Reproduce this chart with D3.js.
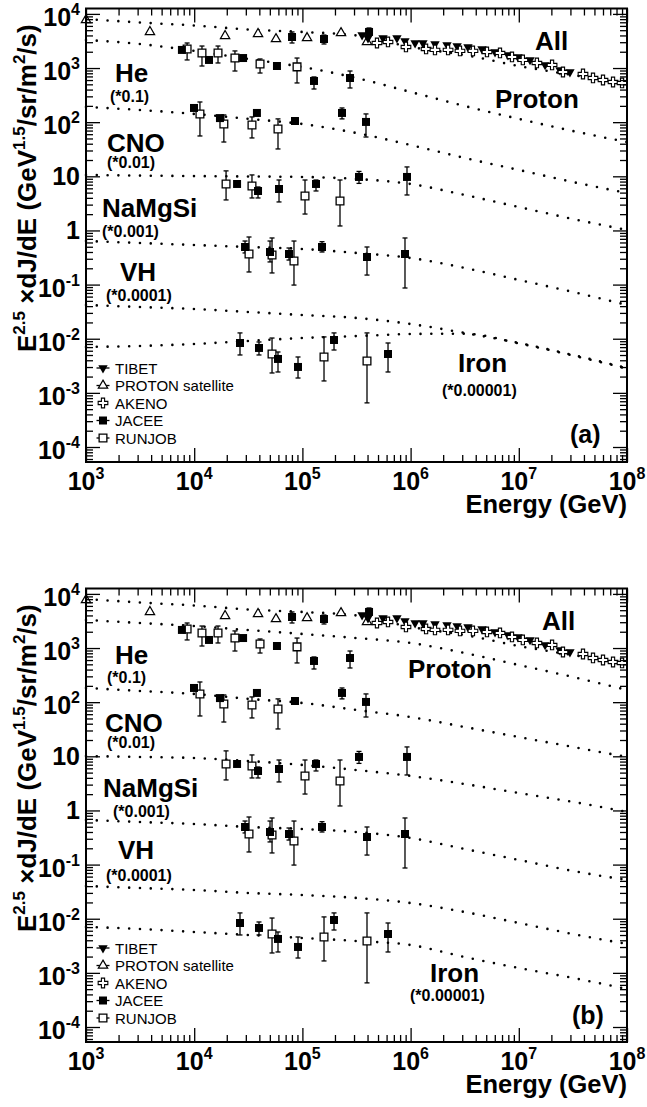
<!DOCTYPE html>
<html>
<head>
<meta charset="utf-8">
<script src="https://cdn.jsdelivr.net/npm/d3@7"></script>
<style>
  body { margin: 0; background: #fff; }
  svg text { font-family: "Liberation Sans", Arial, Helvetica, sans-serif; fill: #000; }
</style>
</head>
<body>
<svg id="chart" width="647" height="1107"></svg>
<script>
// ---------- model curves (E^2.5 dJ/dE, already scaled per group) ----------
const modelEnergy = [1e3, 3.16e3, 1e4, 3.16e4, 1e5, 3.16e5, 1e6, 3.16e6, 1e7, 3.16e7, 1e8];
const allModel     = [8050, 6930, 6110, 5150, 4640, 3990, 2450, 1740, 1090, 743, 507];
const protonModelA = [3300, 2780, 2070, 1470, 1045, 655, 361, 199, 115, 68.7, 43.0];
const protonModelB = [3300, 2900, 2550, 2150, 1820, 1530, 1240, 810, 486, 292, 168];
const heModelA     = [191, 168, 142, 115, 92.5, 63.1, 37.8, 21.8, 13.1, 7.85, 4.92];
const heModelB     = [183, 161, 142, 115, 96.6, 71.8, 53.2, 34.8, 22.7, 14.9, 9.7];
const cnoModelA    = [10.6, 10.3, 10.1, 9.93, 9.73, 8.93, 7.22, 4.52, 2.71, 1.63, 1.02];
const cnoModelB    = [10.1, 9.73, 9.31, 8.20, 6.92, 5.58, 4.33, 3.08, 2.10, 1.44, 0.94];
const namgsiModelA = [0.638, 0.586, 0.538, 0.495, 0.455, 0.384, 0.310, 0.203, 0.122, 0.073, 0.042];
const namgsiModelB = [0.667, 0.612, 0.562, 0.495, 0.455, 0.400, 0.310, 0.194, 0.122, 0.0762, 0.052];
const vhModelA     = [0.0420, 0.0385, 0.0354, 0.0312, 0.0274, 0.0242, 0.0187, 0.0128, 0.00834, 0.00501, 0.00288];
const vhModelB     = [0.0402, 0.0369, 0.0340, 0.0299, 0.0274, 0.0242, 0.0195, 0.0133, 0.00834, 0.00522, 0.00341];
const ironModelA   = [0.00705, 0.00735, 0.00800, 0.00910, 0.0103, 0.0112, 0.0122, 0.0124, 0.00820, 0.00490, 0.00280];
const ironModelB   = [0.00705, 0.00647, 0.00569, 0.00501, 0.00441, 0.00388, 0.00327, 0.00196, 0.00123, 0.000805, 0.000505];

// ---------- measurements ----------
const protonSatE = [1000, 3900, 19300, 38900, 57000, 110400, 227400, 395400];
const protonSatV = [7710, 4640, 3910, 4260, 3440, 3590, 4440, 3030];

const tibetE = [3.56e5, 4.04e5, 5.56e5, 7.48e5, 8.87e5, 1.10e6, 1.30e6, 1.68e6, 2.17e6, 2.69e6, 3.39e6, 4.57e6, 6.03e6, 7.94e6, 9.83e6, 1.27e7, 1.75e7, 2.40e7, 2.97e7];
const tibetV = [4070, 3590, 3590, 3590, 3160, 2900, 2900, 2780, 2670, 2550, 2450, 2250, 1980, 1740, 1600, 1410, 1140, 920, 845];

const akenoE = [4.89e5, 6.18e5, 9.06e5, 1.39e6, 1.68e6, 2.22e6, 2.86e6, 3.77e6, 5.08e6, 6.70e6, 8.65e6, 1.09e7, 1.47e7, 2.03e7, 2.56e7, 3.92e7, 4.85e7, 6.00e7, 7.43e7, 9.00e7];
const akenoV = [2900, 3030, 2450, 2250, 2160, 2160, 2070, 2070, 1980, 1900, 1600, 1410, 1240, 1140, 845, 776, 655, 601, 552, 530];

// [energy, value, lower, upper]
const jaceeAll     = [[80200, 3740, 2900, 4640], [158400, 3440, 2780, 4070], [412900, 4640, 3910, 5490]];
const jaceeProton  = [[7700, 2160, 1950, 2400], [13700, 1410, 1300, 1520], [28300, 1530, 1420, 1650], [58200, 1090, 1010, 1180], [128000, 577, 410, 684], [275500, 655, 428, 881]];
const runjobProton = [[8600, 2250, 1410, 2900], [11800, 1900, 1090, 2550], [16600, 1900, 1240, 2550], [23800, 1530, 881, 2070], [40600, 1190, 809, 1470], [89200, 1050, 530, 1530]];
const jaceeHe      = [[9960, 183, 170, 196], [17300, 119, 110, 128], [38000, 148, 137, 160], [85400, 105, 97, 113], [232300, 148, 115, 183], [387000, 101, 53.2, 142]];
const runjobHe     = [[11300, 142, 55.6, 236], [18800, 92.5, 43.0, 136], [34200, 88.7, 51.1, 125], [59500, 74.8, 32.0, 115]];
const jaceeCNO     = [[24900, 7.22, 6.5, 8.0], [38900, 5.36, 3.98, 6.35], [60800, 5.83, 3.36, 8.55], [133600, 7.22, 5.36, 8.55], [333500, 9.73, 7.4, 12.3], [926200, 9.73, 4.52, 14.9]];
const runjobCNO    = [[19700, 7.22, 3.66, 12.6], [34200, 6.63, 3.98, 10.6], [105700, 4.33, 2.01, 8.55], [222600, 3.50, 1.21, 8.55]];
const jaceeNaMgSi  = [[29500, 0.495, 0.384, 0.638], [50200, 0.400, 0.262, 0.638], [75200, 0.367, 0.284, 0.474], [151800, 0.495, 0.400, 0.620], [395400, 0.323, 0.150, 0.495], [887500, 0.367, 0.0865, 0.726]];
const runjobNaMgSi = [[32100, 0.367, 0.171, 0.757], [52400, 0.352, 0.164, 0.726], [83600, 0.273, 0.098, 0.638]];
const jaceeIron    = [[26500, 0.00834, 0.00501, 0.0128], [39700, 0.00675, 0.00501, 0.00871], [59500, 0.00423, 0.00243, 0.00569], [91100, 0.00301, 0.00188, 0.00460], [196000, 0.00948, 0.00619, 0.0128], [618500, 0.00522, 0.00243, 0.00834]];
const runjobIron   = [[52400, 0.00522, 0.00233, 0.0103], [158400, 0.00460, 0.00166, 0.0108], [395400, 0.00388, 0.000653, 0.0128]];

// ---------- axis ticks and text ----------
const xTickValues = [1e3, 1e4, 1e5, 1e6, 1e7, 1e8];
const xTickLabels = ["10^3", "10^4", "10^5", "10^6", "10^7", "10^8"];
const yTickValues = [1e4, 1e3, 1e2, 1e1, 1, 1e-1, 1e-2, 1e-3, 1e-4];
const yTickLabels = ["10^4", "10^3", "10^2", "10", "1", "10^-1", "10^-2", "10^-3", "10^-4"];
const legendNames = ["TIBET", "PROTON satellite", "AKENO", "JACEE", "RUNJOB"];
const groupNames = ["All", "Proton", "He", "CNO", "NaMgSi", "VH", "Iron"];
const groupFactors = ["(*0.1)", "(*0.01)", "(*0.001)", "(*0.0001)", "(*0.00001)"];

// ---------- layout ----------
const svg = d3.select("#chart");
const X0 = 86, X1 = 627;
const FONT_BIG = 25, FONT_SUP = 16;

const panels = [
  {
    top: 8.5, bottom: 462, tag: "(a)", tagPos: [570, 443],
    models: [allModel, protonModelA, heModelA, cnoModelA, namgsiModelA, vhModelA, ironModelA],
    names: [[535, 50], [495, 108], [115, 82], [107, 152], [102, 217], [120, 281], [458, 372]],
    factors: [[110, 102], [107, 168], [102, 237], [106, 301], [442, 396]]
  },
  {
    top: 588.5, bottom: 1042, tag: "(b)", tagPos: [572, 1024],
    models: [allModel, protonModelB, heModelB, cnoModelB, namgsiModelB, vhModelB, ironModelB],
    names: [[542, 630], [408, 678], [115, 664], [105, 732], [103, 797], [118, 859], [430, 982]],
    factors: [[107, 683], [107, 748], [113, 817], [106, 881], [410, 1001]]
  }
];

const x = d3.scaleLog().domain([1e3, 1e8]).range([X0, X1]);

function minorTicks(lo, hi) {
  const out = [];
  for (let e = Math.floor(Math.log10(lo)); e <= Math.ceil(Math.log10(hi)); e++) {
    for (let k = 2; k <= 9; k++) {
      const v = k * Math.pow(10, e);
      if (v > lo && v < hi) out.push(v);
    }
  }
  return out;
}

// text with "^" superscript, e.g. "10^-2"
function powerText(sel, label, size, supSize, rise) {
  const [base, exp] = label.split("^");
  sel.append("tspan").text(base).attr("font-size", size);
  if (exp !== undefined) {
    sel.append("tspan").text(exp).attr("font-size", supSize).attr("dy", -rise);
  }
}

function drawPanel(p) {
  const y = d3.scaleLog().domain([Math.pow(10, -4.277), Math.pow(10, 4.0997)]).range([p.bottom, p.top]);
  const g = svg.append("g");

  // dotted model curves
  const line = d3.line()
    .x(d => x(d[0]))
    .y(d => y(d[1]))
    .curve(d3.curveMonotoneX);
  p.models.forEach(m => {
    g.append("path")
      .datum(modelEnergy.map((e, i) => [e, m[i]]))
      .attr("d", line)
      .attr("fill", "none")
      .attr("stroke", "#000")
      .attr("stroke-width", 2.6)
      .attr("stroke-linecap", "round")
      .attr("stroke-dasharray", "0 10.8");
  });

  // error bars
  function errorBars(rows) {
    const eg = g.append("g").attr("stroke", "#000").attr("stroke-width", 1.3);
    rows.forEach(r => {
      const cx = x(r[0]);
      eg.append("line").attr("x1", cx).attr("x2", cx).attr("y1", y(r[2])).attr("y2", y(r[3]));
      [r[2], r[3]].forEach(v => {
        eg.append("line").attr("x1", cx - 2.5).attr("x2", cx + 2.5).attr("y1", y(v)).attr("y2", y(v));
      });
    });
  }
  const sqFilled = d3.symbol().type(d3.symbolSquare).size(64);
  const sqOpen = d3.symbol().type(d3.symbolSquare).size(60);
  const tri = d3.symbol().type(d3.symbolTriangle).size(38);
  const cross = d3.symbol().type(d3.symbolCross).size(52);

  const runjobSets = [runjobProton, runjobHe, runjobCNO, runjobNaMgSi, runjobIron];
  const jaceeSets = [jaceeAll, jaceeProton, jaceeHe, jaceeCNO, jaceeNaMgSi, jaceeIron];
  runjobSets.forEach(errorBars);
  jaceeSets.forEach(errorBars);

  // PROTON satellite: open up-triangles
  g.append("g").selectAll("path").data(protonSatE.map((e, i) => [e, protonSatV[i]])).join("path")
    .attr("d", tri)
    .attr("transform", d => `translate(${x(d[0])},${y(d[1])})`)
    .attr("fill", "#fff").attr("stroke", "#000").attr("stroke-width", 1.2);

  // TIBET: filled down-triangles
  g.append("g").selectAll("path").data(tibetE.map((e, i) => [e, tibetV[i]])).join("path")
    .attr("d", tri)
    .attr("transform", d => `translate(${x(d[0])},${y(d[1])}) rotate(180)`)
    .attr("fill", "#000");

  // AKENO: open crosses
  g.append("g").selectAll("path").data(akenoE.map((e, i) => [e, akenoV[i]])).join("path")
    .attr("d", cross)
    .attr("transform", d => `translate(${x(d[0])},${y(d[1])})`)
    .attr("fill", "#fff").attr("stroke", "#000").attr("stroke-width", 1.1);

  // RUNJOB: open squares
  runjobSets.forEach(set => {
    g.append("g").selectAll("path").data(set).join("path")
      .attr("d", sqOpen)
      .attr("transform", d => `translate(${x(d[0])},${y(d[1])})`)
      .attr("fill", "#fff").attr("stroke", "#000").attr("stroke-width", 1.3);
  });
  // JACEE: filled squares
  jaceeSets.forEach(set => {
    g.append("g").selectAll("path").data(set).join("path")
      .attr("d", sqFilled)
      .attr("transform", d => `translate(${x(d[0])},${y(d[1])})`)
      .attr("fill", "#000");
  });

  // axes: ticks drawn inward on all four sides
  const xMinor = minorTicks(1e3, 1e8);
  const yMinor = minorTicks(y.domain()[0], y.domain()[1]);
  function styleAxis(a) {
    a.select(".domain").remove();
    a.selectAll("line").attr("stroke", "#000").attr("stroke-width", 1.3);
  }
  const axes = g.append("g");
  [[d3.axisBottom, p.bottom], [d3.axisTop, p.top]].forEach(([fn, pos]) => {
    axes.append("g").attr("transform", `translate(0,${pos})`)
      .call(fn(x).tickValues(xTickValues).tickSize(-14).tickFormat("")).call(styleAxis);
    axes.append("g").attr("transform", `translate(0,${pos})`)
      .call(fn(x).tickValues(xMinor).tickSize(-7).tickFormat("")).call(styleAxis);
  });
  [[d3.axisLeft, X0], [d3.axisRight, X1]].forEach(([fn, pos]) => {
    axes.append("g").attr("transform", `translate(${pos},0)`)
      .call(fn(y).tickValues(yTickValues).tickSize(-14).tickFormat("")).call(styleAxis);
    axes.append("g").attr("transform", `translate(${pos},0)`)
      .call(fn(y).tickValues(yMinor).tickSize(-7).tickFormat("")).call(styleAxis);
  });

  // frame
  g.append("rect")
    .attr("x", X0).attr("y", p.top).attr("width", X1 - X0).attr("height", p.bottom - p.top)
    .attr("fill", "none").attr("stroke", "#000").attr("stroke-width", 2);

  // tick labels
  xTickValues.forEach((v, i) => {
    const t = g.append("text").attr("x", x(v)).attr("y", p.bottom + 28)
      .attr("text-anchor", "middle").attr("font-weight", "bold");
    powerText(t, xTickLabels[i], FONT_BIG, FONT_SUP, 11);
  });
  yTickValues.forEach((v, i) => {
    const lab = yTickLabels[i];
    const hasExp = lab.includes("^");
    const t = g.append("text").attr("x", X0 - 6).attr("y", y(v) + (hasExp ? 12 : 9))
      .attr("text-anchor", "end").attr("font-weight", "bold");
    powerText(t, lab, FONT_BIG, FONT_SUP, 11);
  });

  // axis titles
  g.append("text").attr("x", X1).attr("y", p.bottom + 51)
    .attr("text-anchor", "end").attr("font-weight", "bold").attr("font-size", 25.5)
    .text("Energy (GeV)");
  const yt = g.append("text")
    .attr("transform", `translate(36,${p.bottom - 110}) rotate(-90)`)
    .attr("font-weight", "bold").attr("font-size", 26);
  yt.append("tspan").text("E");
  yt.append("tspan").text("2.5").attr("font-size", 17).attr("dy", -11);
  yt.append("tspan").text(" \u00D7dJ/dE (GeV").attr("dy", 11);
  yt.append("tspan").text("1.5").attr("font-size", 17).attr("dy", -11);
  yt.append("tspan").text("/sr/m").attr("dy", 11);
  yt.append("tspan").text("2").attr("font-size", 17).attr("dy", -11);
  yt.append("tspan").text("/s)").attr("dy", 11);

  // group names and scale factors
  groupNames.forEach((n, i) => {
    g.append("text").attr("x", p.names[i][0]).attr("y", p.names[i][1])
      .attr("font-weight", "bold").attr("font-size", 26).text(n);
  });
  groupFactors.forEach((f, i) => {
    g.append("text").attr("x", p.factors[i][0]).attr("y", p.factors[i][1])
      .attr("font-weight", "bold").attr("font-size", 16).text(f);
  });
  g.append("text").attr("x", p.tagPos[0]).attr("y", p.tagPos[1])
    .attr("font-weight", "bold").attr("font-size", 25).text(p.tag);

  // legend
  const lg = g.append("g").attr("transform", `translate(0,${p.top - 8.5})`);
  const legendMarkers = [
    sel => sel.append("path").attr("d", tri).attr("transform", "rotate(180)").attr("fill", "#000"),
    sel => sel.append("path").attr("d", tri).attr("fill", "#fff").attr("stroke", "#000").attr("stroke-width", 1.2),
    sel => sel.append("path").attr("d", cross).attr("fill", "#fff").attr("stroke", "#000").attr("stroke-width", 1.1),
    sel => sel.append("path").attr("d", sqFilled).attr("fill", "#000"),
    sel => sel.append("path").attr("d", sqOpen).attr("fill", "#fff").attr("stroke", "#000").attr("stroke-width", 1.3)
  ];
  legendNames.forEach((n, i) => {
    const ly = 368 + i * 17.5;
    const m = lg.append("g").attr("transform", `translate(103,${ly})`);
    if (i !== 2) {
      m.append("line").attr("x1", -6.5).attr("x2", 6.5).attr("stroke", "#000").attr("stroke-width", 1.3);
    }
    legendMarkers[i](m);
    lg.append("text").attr("x", 115).attr("y", ly + 5.5).attr("font-size", 15).text(n);
  });
}

panels.forEach(drawPanel);
</script>
</body>
</html>
